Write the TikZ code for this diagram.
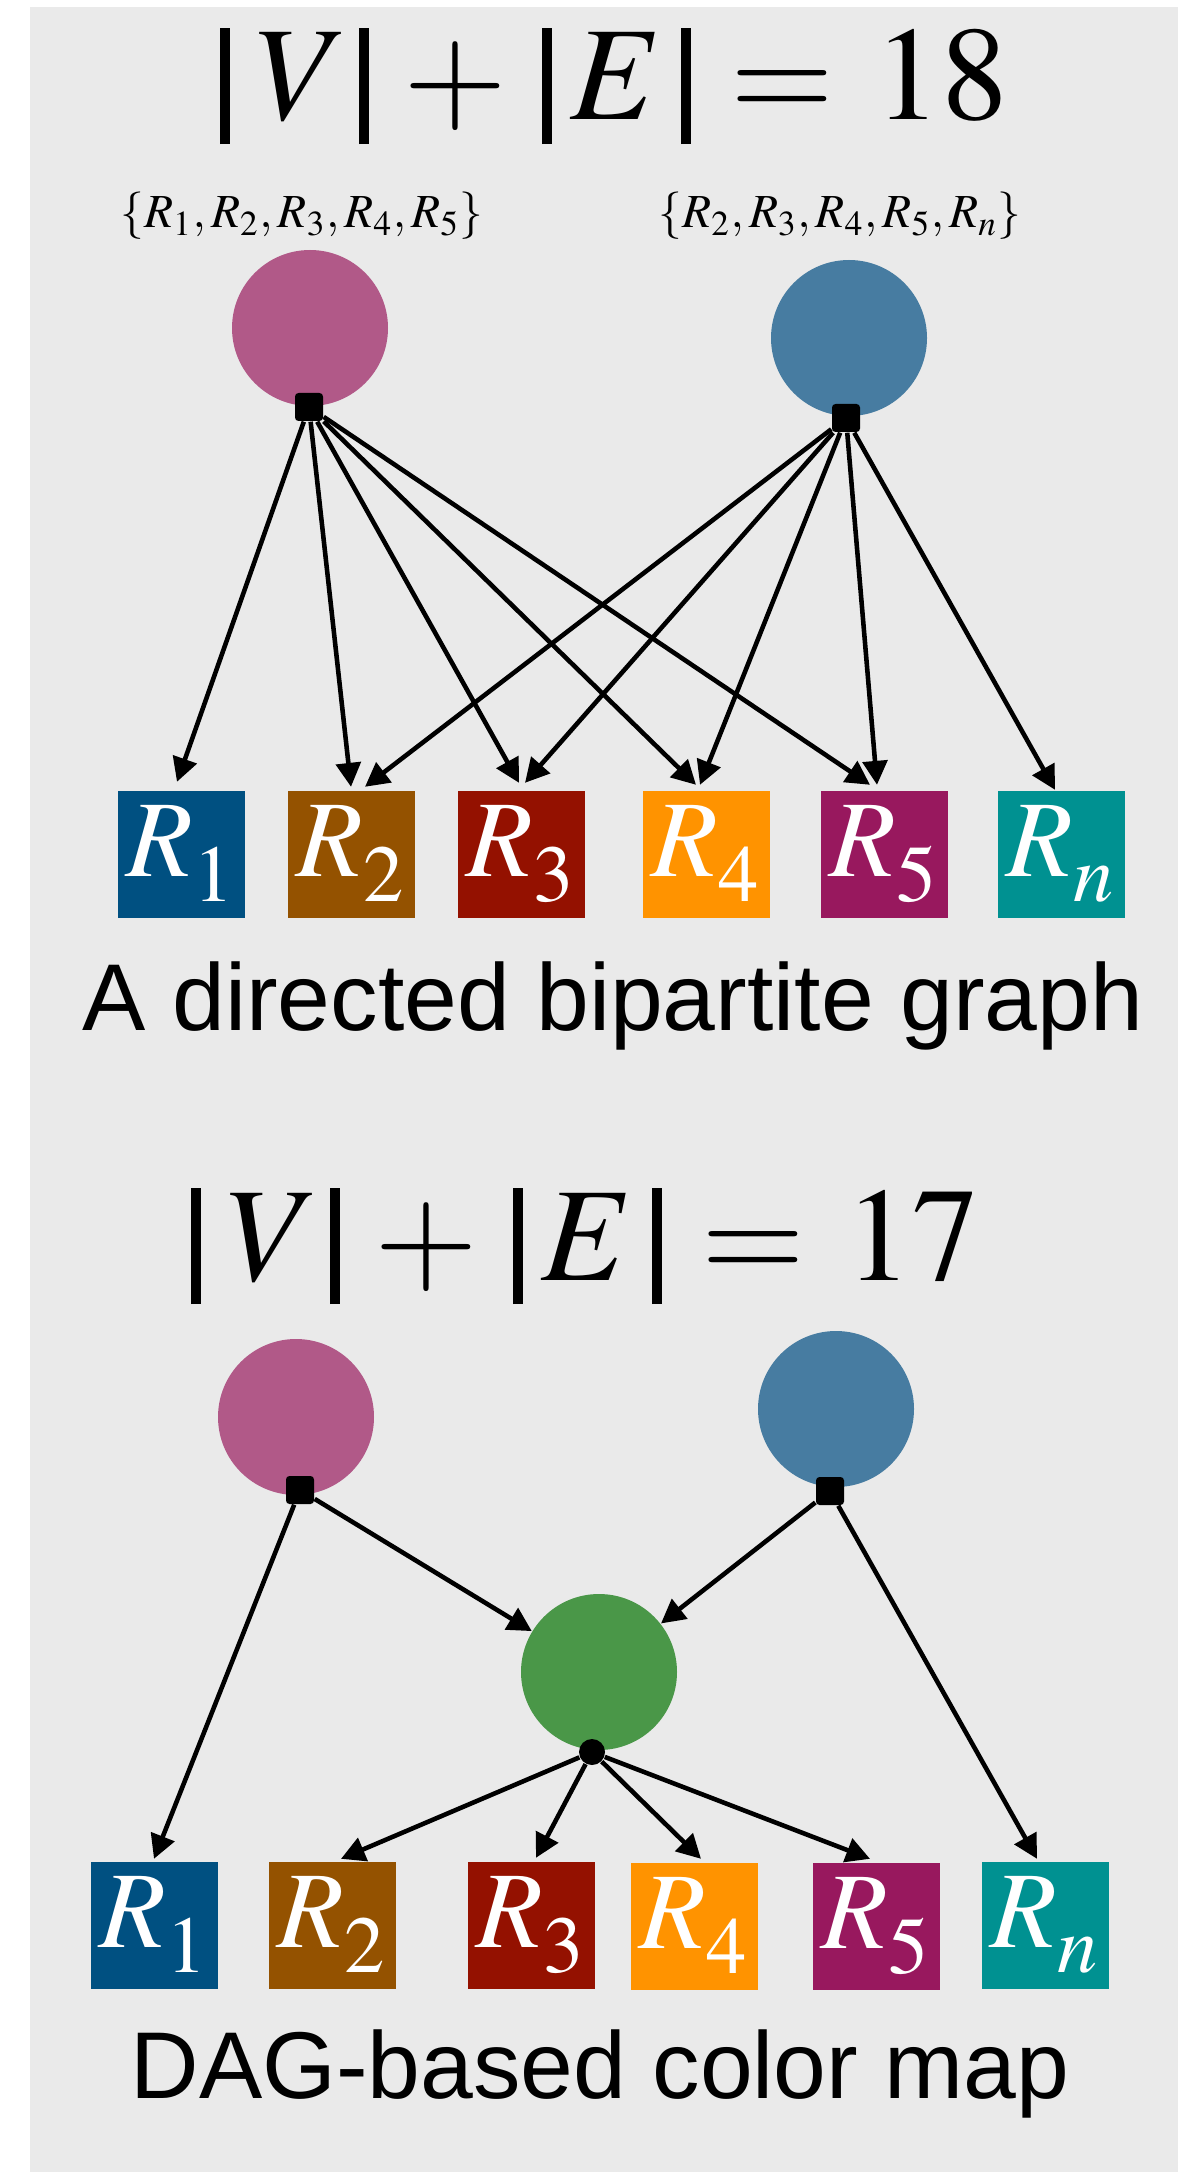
\documentclass[tikz,border=0pt]{standalone}
\usepackage{mathptmx}
\usepackage[no-math]{fontspec}
\setsansfont{Liberation Sans}
\usepackage{xcolor}
\usepackage{tikz}
\usetikzlibrary{
  arrows.meta,
  positioning
}
\newcommand{\absbar}{\mathord{\rule[-0.18em]{0.075em}{0.87em}}}
\newcommand{\rsub}[1]{R_{\lower.08em\hbox{$\scriptstyle #1$}}}
\newcommand{\sizesum}[1]{\absbar\kern.2em V\kern.08em\absbar\kern.26em{+}\kern.26em
  \absbar\kern.14em E\kern.14em\absbar\kern.3em{=}\kern.3em #1}
\definecolor{bggrey}{RGB}{234,234,234}
\definecolor{pinknode}{RGB}{177,89,136}
\definecolor{bluenode}{RGB}{71,124,161}
\definecolor{greennode}{RGB}{74,151,72}
\definecolor{oceanbox}{RGB}{0,80,129}
\definecolor{mochabox}{RGB}{148,82,0}
\definecolor{cayennebox}{RGB}{148,17,0}
\definecolor{tangerinebox}{RGB}{255,147,0}
\definecolor{maroonbox}{RGB}{152,24,94}
\definecolor{tealbox}{RGB}{0,145,145}
\tikzset{
  sumtitle/.style={
    anchor=base,
    inner sep=0pt,
    font=\fontsize{38}{40}\selectfont
  },
  setlabel/.style={
    anchor=base,
    inner sep=0pt,
    font=\fontsize{13.5}{15}\selectfont
  },
  caption/.style={
    anchor=base,
    inner sep=0pt,
    font=\sffamily\fontsize{27}{30}\selectfont
  },
  source/.style={
    circle,
    minimum size=15.6mm,
    inner sep=0pt
  },
  port/.style={
    rectangle,
    fill=black,
    rounded corners=1pt,
    minimum size=2.8mm,
    inner sep=0pt
  },
  dotport/.style={
    circle,
    fill=black,
    minimum size=2.6mm,
    inner sep=0pt
  },
  colorbox/.style={
    rectangle,
    minimum size=12.7mm,
    inner sep=0pt,
    text=white,
    font=\fontsize{31}{33}\selectfont
  },
  flowarrow/.style={-{Triangle[length=6.8pt,width=7pt]},line width=1.3pt,draw=black},
}
\begin{document}
\begin{tikzpicture}[x=0.1mm,y=-0.1mm]
  \useasboundingbox (0,0) rectangle (1178,2172);
  \fill[bggrey] (30,7) rectangle (1178,2172);

  % directed bipartite graph
  \node[sumtitle] (sumA) at (614,120) {$\sizesum{18}$};
  \node[source,fill=pinknode] (pinkA) at (310,328) {};
  \node[source,fill=bluenode] (blueA) at (849,338) {};
  \node[port] (pinkAport) at (309,407) {};
  \node[port] (blueAport) at (846,418) {};
  \node[setlabel] (pinkAset) at (302,228) {$\{R_1, R_2, R_3, R_4, R_5\}$};
  \node[setlabel] (blueAset) at (840,228) {$\{R_2, R_3, R_4, R_5, R_n\}$};
  \node[colorbox,fill=oceanbox] (rA1) at (181,854) {$\rsub{1}$};
  \node[colorbox,fill=mochabox] (rA2) at (351,854) {$\rsub{2}$};
  \node[colorbox,fill=cayennebox] (rA3) at (521,854) {$\rsub{3}$};
  \node[colorbox,fill=tangerinebox] (rA4) at (706,854) {$\rsub{4}$};
  \node[colorbox,fill=maroonbox] (rA5) at (884,854) {$\rsub{5}$};
  \node[colorbox,fill=tealbox] (rAn) at (1061,854) {$\rsub{n}$};
  \node[caption] (captionA) at (613,1030) {A directed bipartite graph};

  \draw[flowarrow] (pinkAport) -- ([xshift=-0.4mm,yshift=0.8mm]rA1.north);
  \draw[flowarrow] (pinkAport) -- ([yshift=0.3mm]rA2.north);
  \draw[flowarrow] (pinkAport) -- ([xshift=-0.2mm,yshift=0.7mm]rA3.north);
  \draw[flowarrow] (pinkAport) -- ([xshift=-1mm,yshift=0.5mm]rA4.north);
  \draw[flowarrow] (pinkAport) -- ([xshift=-1.4mm,yshift=0.5mm]rA5.north);
  \draw[flowarrow] (blueAport) -- ([xshift=1.4mm,yshift=0.3mm]rA2.north);
  \draw[flowarrow] (blueAport) -- ([xshift=0.4mm,yshift=0.7mm]rA3.north);
  \draw[flowarrow] (blueAport) -- ([xshift=-0.6mm,yshift=0.5mm]rA4.north);
  \draw[flowarrow] (blueAport) -- ([xshift=-0.7mm,yshift=0.5mm]rA5.north);
  \draw[flowarrow] (blueAport) -- ([xshift=-0.6mm]rAn.north);

  % DAG-based color map
  \node[sumtitle] (sumB) at (585,1280) {$\sizesum{17}$};
  \node[source,fill=pinknode] (pinkB) at (296,1417) {};
  \node[source,fill=bluenode] (blueB) at (836,1409) {};
  \node[source,fill=greennode] (merge) at (599,1672) {};
  \node[port] (pinkBport) at (300,1490) {};
  \node[port] (blueBport) at (830,1491) {};
  \node[dotport] (mergeport) at (592,1752) {};
  \node[colorbox,fill=oceanbox] (rB1) at (154,1925) {$\rsub{1}$};
  \node[colorbox,fill=mochabox] (rB2) at (332,1925) {$\rsub{2}$};
  \node[colorbox,fill=cayennebox] (rB3) at (531,1925) {$\rsub{3}$};
  \node[colorbox,fill=tangerinebox] (rB4) at (694,1926) {$\rsub{4}$};
  \node[colorbox,fill=maroonbox] (rB5) at (876,1926) {$\rsub{5}$};
  \node[colorbox,fill=tealbox] (rBn) at (1045,1925) {$\rsub{n}$};
  \node[caption] (captionB) at (600,2098) {DAG-based color map};

  \draw[flowarrow] (pinkBport) -- ([yshift=0.2mm]rB1.north);
  \draw[flowarrow] (pinkBport) -- (merge);
  \draw[flowarrow] (blueBport) -- (merge);
  \draw[flowarrow] (blueBport) -- ([xshift=-0.8mm,yshift=0.2mm]rBn.north);
  \draw[flowarrow] (mergeport) -- ([xshift=0.9mm,yshift=0.2mm]rB2.north);
  \draw[flowarrow] (mergeport) -- ([xshift=0.5mm,yshift=0.3mm]rB3.north);
  \draw[flowarrow] (mergeport) -- ([xshift=0.7mm,yshift=0.3mm]rB4.north);
  \draw[flowarrow] (mergeport) -- ([xshift=-0.6mm,yshift=0.3mm]rB5.north);
\end{tikzpicture}
\end{document}
